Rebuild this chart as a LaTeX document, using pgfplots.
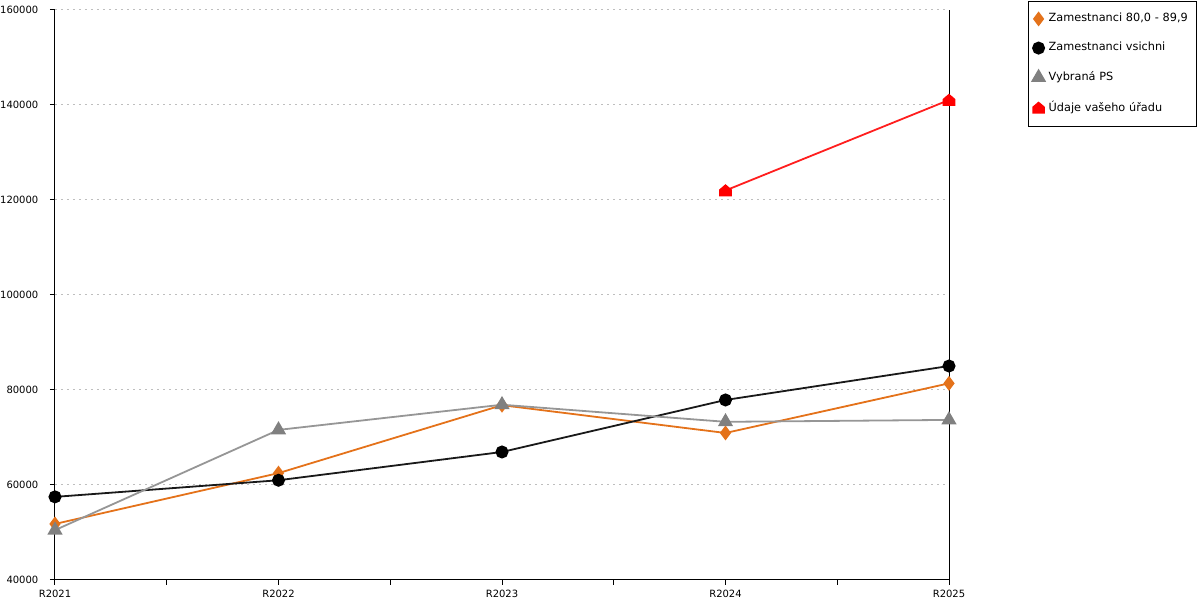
\documentclass[border=0pt]{standalone}
\usepackage{fontspec}
\setmainfont{DejaVu Sans}
\usepackage{pgfplots}
\pgfplotsset{compat=1.18}
\definecolor{cor}{RGB}{228,114,26}
\definecolor{cgr}{RGB}{128,128,128}
\definecolor{cgl}{RGB}{150,150,150}
\definecolor{cbl}{RGB}{25,25,25}
\definecolor{cred}{RGB}{255,30,30}
\definecolor{cgrid}{RGB}{190,190,190}
\pgfdeclareplotmark{house}{%
  \pgfpathmoveto{\pgfqpoint{-\pgfplotmarksize}{-0.9\pgfplotmarksize}}%
  \pgfpathlineto{\pgfqpoint{\pgfplotmarksize}{-0.9\pgfplotmarksize}}%
  \pgfpathlineto{\pgfqpoint{\pgfplotmarksize}{0.1\pgfplotmarksize}}%
  \pgfpathlineto{\pgfqpoint{0pt}{0.95\pgfplotmarksize}}%
  \pgfpathlineto{\pgfqpoint{-\pgfplotmarksize}{0.1\pgfplotmarksize}}%
  \pgfpathclose
  \pgfusepathqfillstroke}
\begin{document}
\begin{tikzpicture}
\begin{axis}[
  scale only axis, width=447pt, height=285pt,
  xmin=0, xmax=4, ymin=40000, ymax=160000,
  axis x line=bottom, axis y line=left,
  axis line style={-, line width=0.5pt, black},
  tick align=outside,
  major tick length=2.5pt, minor tick length=2.5pt,
  tick style={black, line width=0.5pt},
  xtick={0,1,2,3,4},
  xticklabels={R2021,R2022,R2023,R2024,R2025},
  minor xtick={0.5,1.5,2.5,3.5},
  ytick={40000,60000,80000,100000,120000,140000,160000},
  yticklabels={40000,60000,80000,100000,120000,140000,160000},
  scaled y ticks=false, scaled x ticks=false,
  tick label style={font=\fontsize{5}{6}\selectfont},
  xticklabel style={yshift=1pt},
  yticklabel style={xshift=-2.3pt},
  ymajorgrids, grid style={cgrid, dash pattern=on 1pt off 2pt, line width=0.5pt},
  clip=false,
  legend style={at={(rel axis cs:1.0884,1.0165)}, anchor=north west,
    font=\fontsize{5.65}{6.5}\selectfont, draw=black, line width=0.5pt,
    row sep=4.8pt, inner xsep=2pt, inner ysep=4pt,
    cells={anchor=west, text width=70pt}},
  legend cell align=left,
  legend image code/.code={\draw[#1, draw=none] plot coordinates {(0.12cm,0cm)};},
]
\addplot[cor, line width=0.9pt, mark=diamond*, mark size=3pt, mark options={fill=cor, draw=cor}]
  coordinates {(0,51800) (1,62500) (2,76800) (3,70950) (4,81400)};
\addlegendentry{Zamestnanci 80,0 - 89,9}
\addplot[cbl, line width=0.9pt, mark=*, mark size=2.8pt, mark options={fill=black, draw=black}]
  coordinates {(0,57500) (1,61000) (2,66950) (3,77900) (4,85050)};
\addlegendentry{Zamestnanci vsichni}
\addplot[cgl, line width=0.9pt, mark=triangle*, mark size=3.5pt, mark options={fill=cgr, draw=cgr}]
  coordinates {(0,50500) (1,71600) (2,76900) (3,73300) (4,73700)};
\addlegendentry{Vybraná PS}
\addplot[cred, line width=0.9pt, mark=house, mark size=2.7pt, mark options={fill=red, draw=red}]
  coordinates {(3,122000) (4,141050)};
\addlegendentry{Údaje vašeho úřadu}
\draw[black, line width=0.5pt] (rel axis cs:1,0) -- (rel axis cs:1,1);
\coordinate (BBbl) at (rel axis cs:-0.06152,-0.035088);
\coordinate (BBtr) at (rel axis cs:1.28076,1.017544);
\end{axis}
\pgfresetboundingbox
\path[use as bounding box] (BBbl) rectangle (BBtr);
\end{tikzpicture}
\end{document}
